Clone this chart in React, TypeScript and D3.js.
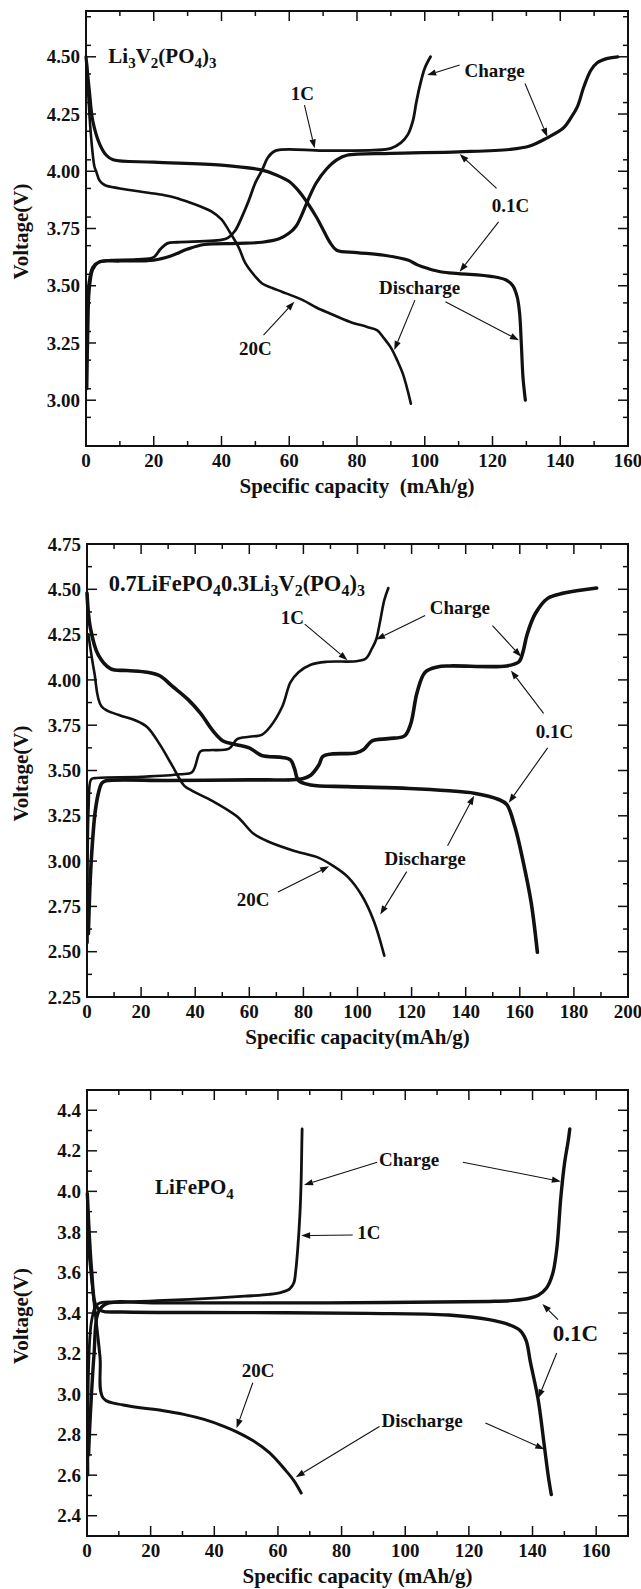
import React from "react";
import * as d3 from "d3";

type Pt = [number, number];

// ---------- panel 1 : Li3V2(PO4)3 ----------
const p1Charge1C: Pt[] = [
  [0.3, 3.05], [0.6, 3.3], [1, 3.48], [2, 3.57], [3.5, 3.6], [6, 3.61], [15, 3.615], [20, 3.625],
  [22, 3.66], [24, 3.685], [27, 3.69], [35, 3.695], [40, 3.7], [42, 3.71], [44, 3.74], [46, 3.8],
  [48, 3.87], [50, 3.95], [52, 4.005], [53.7, 4.06], [56, 4.09], [70, 4.09], [85, 4.092], [90, 4.1],
  [93, 4.125], [95, 4.16], [96.5, 4.22], [97.5, 4.3], [98.5, 4.37], [100, 4.45], [101.7, 4.5],
];
const p1Charge01C: Pt[] = [
  [0.3, 3.3], [0.8, 3.5], [2, 3.58], [4, 3.605], [10, 3.608], [20, 3.612], [25, 3.63], [30, 3.66],
  [35, 3.68], [45, 3.685], [52, 3.69], [57, 3.705], [60, 3.73], [62, 3.76], [64, 3.82], [66, 3.89],
  [68, 3.95], [71, 4.01], [74, 4.05], [77, 4.07], [90, 4.078], [110, 4.085], [125, 4.095], [131, 4.11],
  [136, 4.145], [141, 4.19], [143, 4.23], [145, 4.28], [147, 4.37], [149, 4.44], [151, 4.475],
  [154, 4.493], [157, 4.5],
];
const p1Discharge01C: Pt[] = [
  [0, 4.5], [1, 4.35], [2, 4.22], [4, 4.12], [6, 4.07], [8, 4.05], [20, 4.04], [40, 4.027], [52, 4.005],
  [56, 3.985], [60, 3.955], [63, 3.91], [65, 3.87], [68, 3.8], [70, 3.745], [72, 3.69], [74, 3.655],
  [80, 3.645], [88, 3.633], [95, 3.612], [98, 3.59], [101, 3.575], [105, 3.56], [110, 3.553],
  [120, 3.54], [124, 3.525], [126, 3.5], [127.3, 3.45], [128, 3.38], [128.5, 3.25], [129, 3.1],
  [129.7, 3.0],
];
const p1Discharge20C: Pt[] = [
  [0.2, 4.48], [0.8, 4.3], [1.5, 4.15], [2.5, 4.02], [3, 4.0], [4, 3.96], [5.5, 3.94], [10, 3.925],
  [20, 3.903], [25, 3.89], [30, 3.867], [34, 3.845], [37, 3.825], [40, 3.79], [42, 3.745], [45, 3.67],
  [47, 3.6], [50, 3.54], [52, 3.51], [55, 3.49], [58, 3.473], [64, 3.437], [68, 3.405], [72, 3.379],
  [78, 3.342], [83, 3.32], [86, 3.305], [88, 3.27], [90, 3.23], [92, 3.17], [93.5, 3.117], [95, 3.04],
  [95.9, 2.985],
];

// ---------- panel 2 : 0.7LiFePO4·0.3Li3V2(PO4)3 ----------
const p2Charge1C: Pt[] = [
  [0.2, 2.55], [0.6, 3.3], [1.5, 3.45], [3, 3.458], [20, 3.465], [34.4, 3.479], [38.9, 3.492],
  [42, 3.606], [45, 3.612], [52.5, 3.621], [55.5, 3.673], [60, 3.686], [64.6, 3.697], [67.6, 3.739],
  [72.2, 3.853], [75.2, 3.986], [78.2, 4.042], [82.7, 4.084], [88.8, 4.1], [99.3, 4.103],
  [103.1, 4.118], [105.4, 4.175], [106.9, 4.223], [108.4, 4.327], [109.9, 4.44], [111.4, 4.507],
];
const p2Charge01C: Pt[] = [
  [0.5, 2.6], [1.2, 2.9], [2, 3.1], [3, 3.27], [4.3, 3.38], [5.5, 3.43], [7, 3.443], [30, 3.445],
  [60, 3.448], [79.7, 3.455], [82.7, 3.474], [85.7, 3.53], [87.2, 3.578], [90.3, 3.591], [99.3, 3.597],
  [102.3, 3.616], [105.4, 3.663], [111.4, 3.676], [117.4, 3.691], [119.7, 3.758], [122, 3.929],
  [125, 4.042], [129.5, 4.071], [134, 4.077], [155.2, 4.077], [159.7, 4.1], [161.2, 4.156],
  [162.7, 4.251], [165.7, 4.365], [170.3, 4.45], [176.3, 4.479], [188.4, 4.507],
];
const p2Discharge01C: Pt[] = [
  [0, 4.479], [1.2, 4.29], [4.2, 4.137], [8.8, 4.061], [14.8, 4.052], [22.3, 4.042], [26.9, 4.023],
  [31.4, 3.967], [37.4, 3.891], [42, 3.815], [46.5, 3.72], [50.3, 3.663], [54.8, 3.644], [60, 3.625],
  [64.6, 3.583], [72.2, 3.572], [75.2, 3.559], [76.7, 3.511], [78.2, 3.445], [82.7, 3.42],
  [96.3, 3.411], [119, 3.401], [134, 3.388], [143.1, 3.375], [152.2, 3.34], [155.2, 3.312],
  [158.2, 3.189], [161.2, 3.0], [164.2, 2.772], [166.5, 2.497],
];
const p2Discharge20C: Pt[] = [
  [0.5, 4.251], [2.7, 4.042], [5.4, 3.853], [11.8, 3.806], [17.8, 3.777], [22.3, 3.739], [26.9, 3.644],
  [31.4, 3.53], [35.9, 3.417], [38.9, 3.388], [46.5, 3.331], [55.5, 3.246], [61.6, 3.151],
  [67.6, 3.104], [76.7, 3.056], [85.7, 3.018], [90.3, 2.98], [96.3, 2.914], [101.6, 2.81],
  [106.1, 2.667], [109.9, 2.478],
];

// ---------- panel 3 : LiFePO4 ----------
const p3Charge1C: Pt[] = [
  [0.3, 2.6], [1.5, 3.367], [3.5, 3.445], [11.1, 3.453], [24, 3.462], [36.8, 3.471], [49.6, 3.483],
  [57.3, 3.492], [61.1, 3.502], [63.7, 3.519], [65, 3.549], [65.6, 3.609], [66.2, 3.713],
  [66.9, 3.885], [67.3, 4.058], [67.5, 4.231], [67.6, 4.308],
];
const p3Charge01C: Pt[] = [
  [0.5, 2.7], [0.9, 2.849], [2.2, 3.194], [3.5, 3.402], [6, 3.445], [24, 3.45], [75.2, 3.45],
  [126.4, 3.457], [134.1, 3.462], [139.3, 3.474], [141.8, 3.488], [144.4, 3.523], [146.3, 3.592],
  [147.6, 3.713], [148.9, 3.972], [150.1, 4.144], [151.2, 4.248], [151.7, 4.308],
];
const p3Discharge01C: Pt[] = [
  [0.1, 3.99], [1.5, 3.6], [2.8, 3.436], [4.7, 3.41], [11.1, 3.405], [49.6, 3.402], [88, 3.398],
  [113.6, 3.39], [126.4, 3.367], [132.8, 3.341], [136, 3.315], [138, 3.264], [139.3, 3.16],
  [141.8, 2.97], [143.7, 2.745], [145, 2.59], [145.9, 2.504],
];
const p3Discharge20C: Pt[] = [
  [0.3, 3.75], [1.5, 3.56], [2.8, 3.37], [4.1, 3.18], [5.1, 2.98], [11.4, 2.946], [24, 2.918],
  [30.4, 2.9], [36.8, 2.875], [43.2, 2.84], [47, 2.814], [52.1, 2.771], [57.3, 2.711], [62.4, 2.624],
  [65, 2.573], [67.3, 2.512],
];

// tick values
const p1XTicks = [0, 20, 40, 60, 80, 100, 120, 140, 160];
const p1YTicks = [3.0, 3.25, 3.5, 3.75, 4.0, 4.25, 4.5];
const p2XTicks = [0, 20, 40, 60, 80, 100, 120, 140, 160, 180, 200];
const p2YTicks = [2.25, 2.5, 2.75, 3.0, 3.25, 3.5, 3.75, 4.0, 4.25, 4.5, 4.75];
const p3XTicks = [0, 20, 40, 60, 80, 100, 120, 140, 160];
const p3YTicks = [2.4, 2.6, 2.8, 3.0, 3.2, 3.4, 3.6, 3.8, 4.0, 4.2, 4.4];

const FONT = "'Liberation Serif', 'Times New Roman', serif";

type Seg = [string, boolean]; // text, subscript?
type Note = { text: string; at: Pt; size?: number; arrows: [Pt, Pt][] };

interface PanelProps {
  box: { left: number; right: number; top: number; bottom: number };
  xDomain: [number, number];
  yDomain: [number, number];
  xTicks: number[];
  xMinorStep: number;
  yTicks: number[];
  yMinorStep: number;
  yFormat: string;
  xTitle: string;
  title: Seg[];
  titleAt: Pt;
  titleSize?: number;
  series: { pts: Pt[]; w: number }[];
  notes: Note[];
}

const Arrow: React.FC<{ x1: number; y1: number; x2: number; y2: number }> = ({ x1, y1, x2, y2 }) => {
  const a = Math.atan2(y2 - y1, x2 - x1);
  const L = 9, W = 3.2;
  const bx = x2 - L * Math.cos(a), by = y2 - L * Math.sin(a);
  const p = `${x2},${y2} ${bx - W * Math.sin(a)},${by + W * Math.cos(a)} ${bx + W * Math.sin(a)},${by - W * Math.cos(a)}`;
  return (
    <g>
      <line x1={x1} y1={y1} x2={bx} y2={by} stroke="#111" strokeWidth={1.1} />
      <polygon points={p} fill="#111" />
    </g>
  );
};

const Panel: React.FC<PanelProps> = (p) => {
  const { box } = p;
  const x = d3.scaleLinear().domain(p.xDomain).range([box.left, box.right]);
  const y = d3.scaleLinear().domain(p.yDomain).range([box.bottom, box.top]);
  const line = d3.line<Pt>().x((d) => x(d[0])).y((d) => y(d[1])).curve(d3.curveCatmullRom.alpha(0.5));
  const fmt = d3.format(p.yFormat);
  const ts = p.titleSize || 21;
  const ss = Math.round(ts * 0.72);

  const xMinor = d3.range(p.xDomain[0], p.xDomain[1] + 1e-6, p.xMinorStep).filter((v) => !p.xTicks.some((t) => Math.abs(t - v) < 1e-6));
  const yMinor = d3.range(p.yDomain[0], p.yDomain[1] + 1e-6, p.yMinorStep).filter((v) => !p.yTicks.some((t) => Math.abs(t - v) < 1e-6));
  const MAJ = 10, MIN = 5;

  return (
    <g fontFamily={FONT} fontWeight="bold" fill="#111">
      {/* ticks on all four sides, pointing inward */}
      {[...p.xTicks.map((t) => [t, MAJ]), ...xMinor.map((t) => [t, MIN])].map(([t, l], i) => (
        <g key={"xt" + i} stroke="#111" strokeWidth={1.5}>
          <line x1={x(t)} x2={x(t)} y1={box.bottom} y2={box.bottom - l} />
          <line x1={x(t)} x2={x(t)} y1={box.top} y2={box.top + l} />
        </g>
      ))}
      {[...p.yTicks.map((t) => [t, MAJ]), ...yMinor.map((t) => [t, MIN])].map(([t, l], i) => (
        <g key={"yt" + i} stroke="#111" strokeWidth={1.5}>
          <line y1={y(t)} y2={y(t)} x1={box.left} x2={box.left + l} />
          <line y1={y(t)} y2={y(t)} x1={box.right} x2={box.right - l} />
        </g>
      ))}
      <rect x={box.left} y={box.top} width={box.right - box.left} height={box.bottom - box.top} fill="none" stroke="#111" strokeWidth={2} />

      {p.xTicks.map((t) => (
        <text key={"xl" + t} x={x(t)} y={box.bottom + 21} textAnchor="middle" fontSize={19}>{t}</text>
      ))}
      {p.yTicks.map((t) => (
        <text key={"yl" + t} x={box.left - 6} y={y(t)} dy="0.35em" textAnchor="end" fontSize={19}>{fmt(t)}</text>
      ))}
      <text x={(box.left + box.right) / 2} y={box.bottom + 47} textAnchor="middle" fontSize={21} style={{ whiteSpace: "pre" }}>{p.xTitle}</text>
      <text transform={`translate(28,${(box.top + box.bottom) / 2 + 3}) rotate(-90)`} textAnchor="middle" fontSize={21}>Voltage(V)</text>

      {p.series.map((s, i) => (
        <path key={"s" + i} d={line(s.pts) || ""} fill="none" stroke="#111" strokeWidth={s.w} strokeLinejoin="round" strokeLinecap="round" />
      ))}

      <text x={x(p.titleAt[0])} y={y(p.titleAt[1])} fontSize={ts}>
        {p.title.map(([s, sub], i) => (
          <tspan key={i} fontSize={sub ? ss : ts} dy={sub ? 5 : i > 0 && p.title[i - 1][1] ? -5 : 0}>{s}</tspan>
        ))}
      </text>

      {p.notes.map((n, i) => (
        <g key={"n" + i}>
          <text x={x(n.at[0])} y={y(n.at[1])} textAnchor="middle" fontSize={n.size || 19}>{n.text}</text>
          {n.arrows.map(([a, b], j) => (
            <Arrow key={j} x1={x(a[0])} y1={y(a[1])} x2={x(b[0])} y2={y(b[1])} />
          ))}
        </g>
      ))}
    </g>
  );
};

export default function App() {
  return (
    <svg width={641} height={1589} style={{ position: "absolute", left: 0, top: 0, background: "#fff" }}>
      <rect width={641} height={1589} fill="#fff" />
      <Panel
        box={{ left: 86, right: 628, top: 11, bottom: 446 }}
        xDomain={[0, 160]} yDomain={[2.8, 4.7]}
        xTicks={p1XTicks} xMinorStep={10} yTicks={p1YTicks} yMinorStep={0.125} yFormat=".2f"
        xTitle="Specific capacity  (mAh/g)"
        title={[["Li", false], ["3", true], ["V", false], ["2", true], ["(PO", false], ["4", true], [")", false], ["3", true]]}
        titleAt={[6.6, 4.471]}
        series={[
          { pts: p1Charge1C, w: 2.8 },
          { pts: p1Charge01C, w: 3.2 },
          { pts: p1Discharge01C, w: 3.2 },
          { pts: p1Discharge20C, w: 2.6 },
        ]}
        notes={[
          { text: "1C", at: [63.9, 4.311], arrows: [[[64.5, 4.289], [67.5, 4.1]]] },
          { text: "Charge", at: [120.6, 4.413], arrows: [[[110.3, 4.464], [100.7, 4.42]], [[129.6, 4.383], [136.2, 4.15]]] },
          { text: "0.1C", at: [125.3, 3.823], arrows: [[[121.2, 3.925], [110.3, 4.075]], [[121.8, 3.779], [110.3, 3.561]]] },
          { text: "Discharge", at: [98.5, 3.466], arrows: [[[97.1, 3.437], [91.0, 3.219]], [[106.1, 3.43], [127.8, 3.262]]] },
          { text: "20C", at: [50.0, 3.197], arrows: [[[52.4, 3.284], [61.5, 3.43]]] },
        ]}
      />
      <Panel
        box={{ left: 87, right: 628, top: 544, bottom: 997 }}
        xDomain={[0, 200]} yDomain={[2.25, 4.75]}
        xTicks={p2XTicks} xMinorStep={10} yTicks={p2YTicks} yMinorStep={0.125} yFormat=".2f"
        xTitle="Specific capacity(mAh/g)"
        title={[["0.7LiFePO", false], ["4", true], ["0.3Li", false], ["3", true], ["V", false], ["2", true], ["(PO", false], ["4", true], [")", false], ["3", true]]}
        titleAt={[8.0, 4.488]}
        titleSize={22.5}
        series={[
          { pts: p2Charge1C, w: 2.6 },
          { pts: p2Charge01C, w: 3.6 },
          { pts: p2Discharge01C, w: 3.6 },
          { pts: p2Discharge20C, w: 2.6 },
        ]}
        notes={[
          { text: "1C", at: [75.9, 4.308], arrows: [[[80.5, 4.308], [96.3, 4.109]]] },
          { text: "Charge", at: [137.8, 4.365], arrows: [[[125, 4.355], [106.9, 4.223]], [[149.9, 4.299], [160.5, 4.128]]] },
          { text: "0.1C", at: [172.8, 3.682], arrows: [[[168.8, 3.815], [156.7, 4.052]], [[170.3, 3.625], [155.9, 3.322]]] },
          { text: "Discharge", at: [125, 2.98], arrows: [[[133.3, 3.085], [143.1, 3.36]], [[118.2, 2.942], [108.4, 2.705]]] },
          { text: "20C", at: [61.4, 2.753], arrows: [[[70.6, 2.829], [89.5, 2.971]]] },
        ]}
      />
      <Panel
        box={{ left: 87, right: 628, top: 1090, bottom: 1536 }}
        xDomain={[0, 170]} yDomain={[2.3, 4.5]}
        xTicks={p3XTicks} xMinorStep={10} yTicks={p3YTicks} yMinorStep={0.1} yFormat=".1f"
        xTitle="Specific capacity (mAh/g)"
        title={[["LiFePO", false], ["4", true]]}
        titleAt={[21.4, 3.989]}
        series={[
          { pts: p3Charge1C, w: 2.8 },
          { pts: p3Charge01C, w: 3.4 },
          { pts: p3Discharge01C, w: 3.4 },
          { pts: p3Discharge20C, w: 3.0 },
        ]}
        notes={[
          { text: "Charge", at: [101.2, 4.127], arrows: [[[91.2, 4.144], [68.2, 4.032]], [[118.1, 4.144], [148.9, 4.049]]] },
          { text: "1C", at: [88.6, 3.764], arrows: [[[83.5, 3.785], [67.3, 3.782]]] },
          { text: "0.1C", at: [153.5, 3.264], size: 23, arrows: [[[148, 3.367], [143.1, 3.445]], [[147.6, 3.203], [141.8, 2.979]]] },
          { text: "Discharge", at: [105.3, 2.84], arrows: [[[91.9, 2.84], [65.6, 2.59]], [[125.2, 2.858], [143.7, 2.728]]] },
          { text: "20C", at: [53.8, 3.082], arrows: [[[52.1, 3.056], [47, 2.832]]] },
        ]}
      />
    </svg>
  );
}
